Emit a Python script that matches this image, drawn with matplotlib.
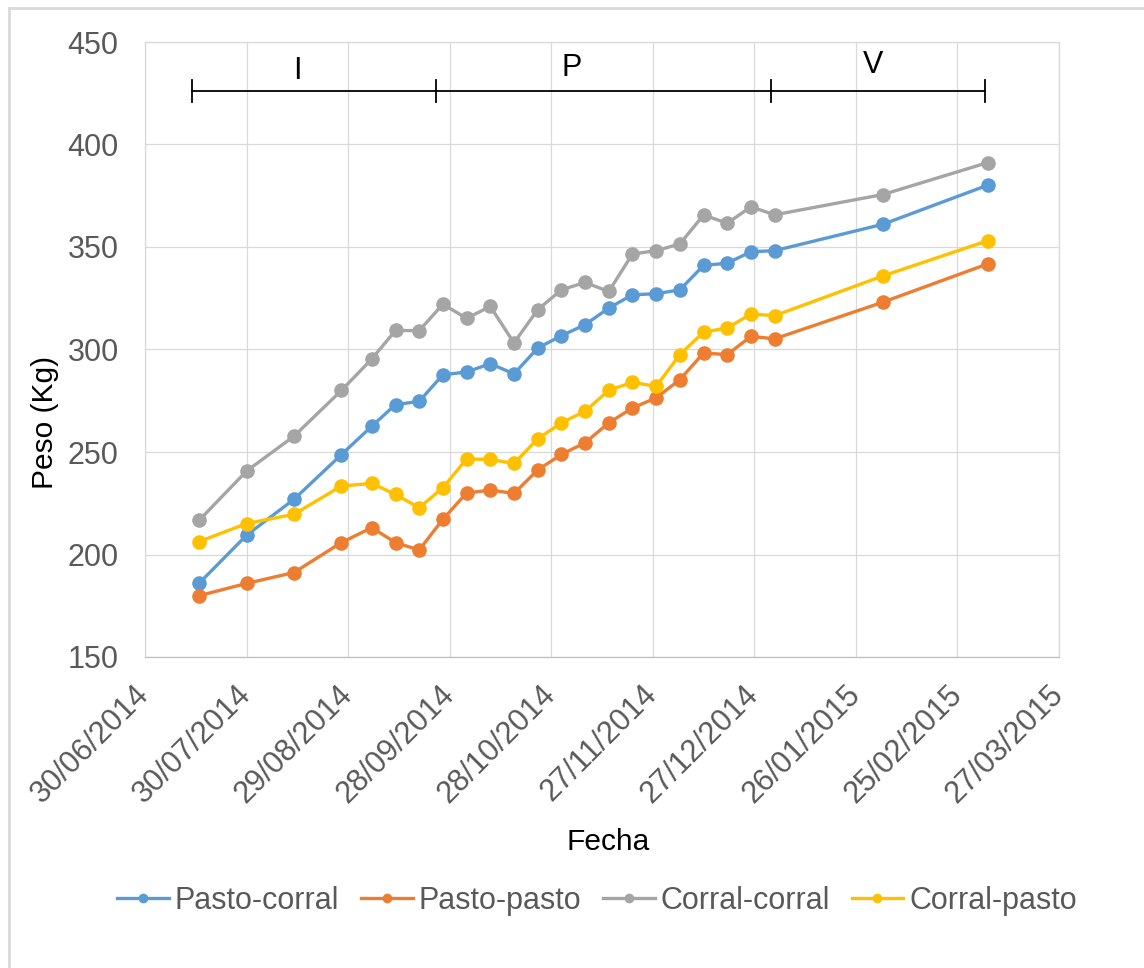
import matplotlib
matplotlib.use("Agg")
import matplotlib.pyplot as plt
from matplotlib.lines import Line2D
import pandas as pd

plt.rcParams['font.family'] = ['Liberation Sans', 'DejaVu Sans']

# Weighing dates
fechas = ["2014-07-16", "2014-07-30", "2014-08-13", "2014-08-27", "2014-09-05",
          "2014-09-12", "2014-09-19", "2014-09-26", "2014-10-03", "2014-10-10",
          "2014-10-17", "2014-10-24", "2014-10-31", "2014-11-07", "2014-11-14",
          "2014-11-21", "2014-11-28", "2014-12-05", "2014-12-12", "2014-12-19",
          "2014-12-26", "2015-01-02", "2015-02-03", "2015-03-06"]

# Mean live weight (kg) per treatment group
pasto_corral = [186.0, 209.4, 226.9, 248.7, 262.6, 273.1, 274.7, 287.7, 289.0, 293.1,
                288.1, 300.7, 306.7, 312.1, 320.2, 326.7, 327.2, 329.1, 341.0, 342.1,
                347.7, 348.2, 361.1, 380.2]
pasto_pasto = [179.9, 185.9, 191.2, 205.8, 213.1, 205.8, 202.2, 217.2, 230.0, 231.4,
               229.8, 241.2, 248.8, 254.5, 264.2, 271.5, 276.4, 285.3, 298.3, 297.5,
               306.4, 305.2, 323.1, 341.8]
corral_corral = [216.7, 240.7, 257.7, 280.0, 295.4, 309.3, 309.2, 322.1, 315.2, 321.0,
                 303.2, 319.4, 329.1, 332.7, 328.3, 346.6, 348.2, 351.5, 365.6, 361.6,
                 369.6, 365.7, 375.6, 391.2]
corral_pasto = [206.3, 215.1, 219.6, 233.4, 234.7, 229.3, 222.8, 232.6, 246.6, 246.4,
                244.4, 256.4, 264.2, 269.9, 280.1, 284.0, 282.0, 297.5, 308.5, 310.5,
                317.3, 316.5, 335.9, 353.1]

series_names = ["Pasto-corral", "Pasto-pasto", "Corral-corral", "Corral-pasto"]
series_colors = ["#5B9BD5", "#ED7D31", "#A5A5A5", "#FFC000"]

# Axis ticks
x_start, x_end = "2014-06-30", "2015-03-27"
x_tick_step_days = 30
y_ticks = [150, 200, 250, 300, 350, 400, 450]

# Experimental periods (boundaries and labels)
period_bounds = ["2014-07-14", "2014-09-24", "2015-01-01", "2015-03-05"]
period_labels = ["I", "P", "V"]
period_label_dates = ["2014-08-14", "2014-11-03", "2015-01-31"]
period_label_y = [436.0, 437.5, 439.0]
period_line_y = 426

fig = plt.figure(figsize=(11.44, 9.68), dpi=100)
ax = fig.add_axes([145 / 1144, 1 - 657 / 968, 914 / 1144, 615 / 968])

x = pd.to_datetime(fechas)
for vals, name, col in zip([pasto_corral, pasto_pasto, corral_corral, corral_pasto],
                           series_names, series_colors):
    ax.plot(x, vals, color=col, lw=2.4, marker='o', markersize=10.5,
            markeredgewidth=0, label=name, zorder=3)

xs = pd.Timestamp(x_start)
xe = pd.Timestamp(x_end)
ticks = pd.date_range(xs, xe, freq=f"{x_tick_step_days}D")
ax.set_xlim(xs, xe)
ax.set_xticks(ticks)
ax.set_xticklabels([t.strftime("%d/%m/%Y") for t in ticks], rotation=45,
                   ha='right', va='center', rotation_mode='anchor')
ax.set_ylim(150, 450)
ax.set_yticks(y_ticks)

grid_col = "#D9D9D9"
ax.grid(True, color=grid_col, lw=0.9, zorder=0)
ax.set_axisbelow(True)
for s in ax.spines.values():
    s.set_color(grid_col)
    s.set_linewidth(0.9)
ax.spines['bottom'].set_color("#BFBFBF")
ax.tick_params(axis='both', length=0, labelsize=22, labelcolor="#595959")
ax.tick_params(axis='y', pad=19)
ax.tick_params(axis='x', pad=24)

ax.set_ylabel("Peso (Kg)", fontsize=21.5, color="black")
ax.yaxis.set_label_coords(-0.094, 0.381)

fig.text(608 / 1144, 1 - 842 / 968, "Fecha", fontsize=21.5, color="black",
         ha='center', va='center')

# Period bar with end ticks
pb = pd.to_datetime(period_bounds)
ax.plot([pb[0], pb[-1]], [period_line_y, period_line_y], color="black", lw=1.3,
        zorder=4, clip_on=False)
for b in pb:
    ax.plot([b, b], [period_line_y - 5.5, period_line_y + 5.5], color="black",
            lw=1.3, zorder=4, clip_on=False)
for lab, d, yy in zip(period_labels, pd.to_datetime(period_label_dates), period_label_y):
    ax.text(d, yy, lab, fontsize=22, color="black", ha='center', va='center')

# Legend below the chart
handles = [Line2D([0], [0], color=c, lw=2.4, marker='o', markersize=7,
                  markeredgewidth=0) for c in series_colors]
fig.legend(handles, series_names, loc='center', bbox_to_anchor=(597 / 1144, 1 - 901 / 968),
           ncol=4, frameon=False, fontsize=22, handlelength=1.7, handletextpad=0.2,
           columnspacing=0.7, labelcolor="#595959")

# Chart area border (left and top edges)
fig.add_artist(Line2D([9 / 1144, 9 / 1144], [0, 1 - 8 / 968], color=grid_col, lw=2,
                      transform=fig.transFigure))
fig.add_artist(Line2D([9 / 1144, 1], [1 - 8 / 968, 1 - 8 / 968], color=grid_col, lw=2,
                      transform=fig.transFigure))

fig.savefig("out.png", dpi=100)
